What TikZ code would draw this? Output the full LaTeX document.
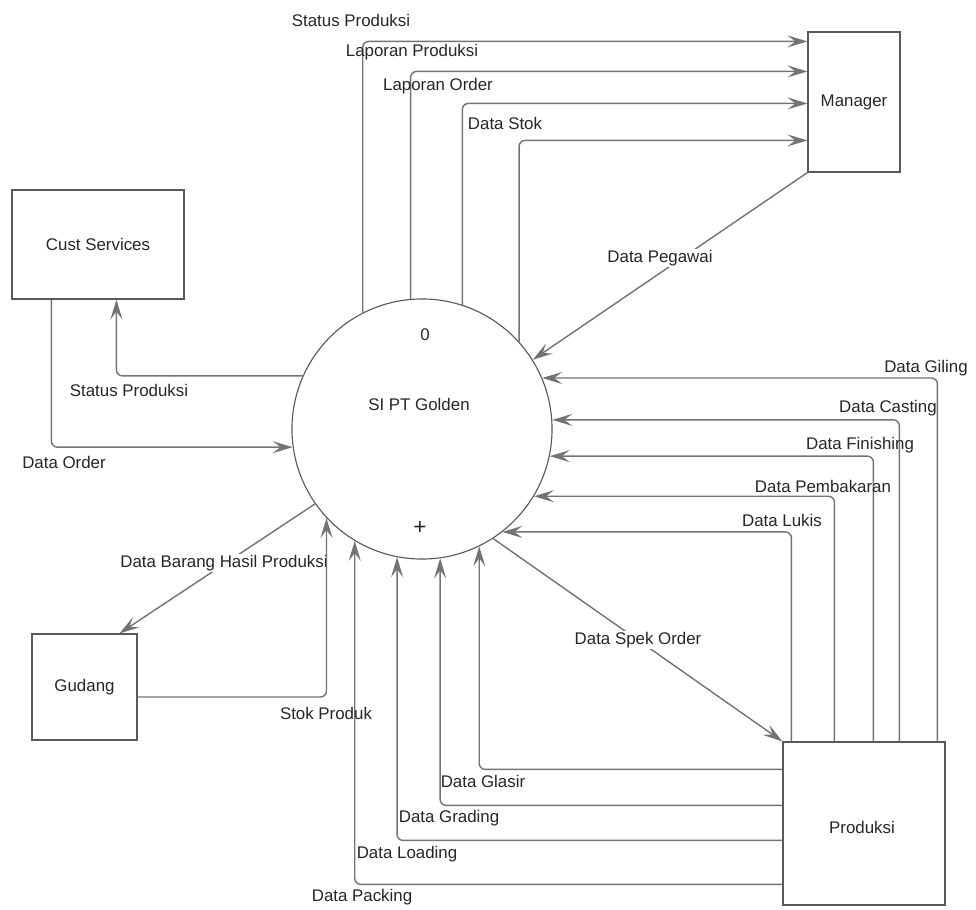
\documentclass[tikz,border=0pt]{standalone}
\usepackage{fontspec}
\setmainfont{Liberation Sans}
\usetikzlibrary{calc, positioning, arrows.meta}

\begin{document}
\begin{tikzpicture}[x=0.025cm, y=-0.025cm, line width=1pt,
    flow/.style={draw=black!55, rounded corners=0.15cm, -{Stealth[length=5mm, width=3mm, inset=2mm]}},
    entity/.style={draw=black!65, line width=0.8pt, inner sep=0pt},
    lbl/.style={font=\fontsize{12}{14}\selectfont, text=black!85, inner sep=1pt}]
    \useasboundingbox (0,0) rectangle (976,910);
    % The process and the external entities
    \node[entity, circle, minimum size=6.5cm] (sys) at (422,429) {};
    \node[lbl] (sysname) at ($(sys.center)+(-3,-25)$) {SI PT Golden};
    \node[lbl] (sysid) at ($(sys.center)+(3,-94)$) {0};
    \node[lbl, font=\fontsize{16}{16}\selectfont] (sysplus) at ($(sys.center)+(-2,99)$) {+};
    \node[entity, minimum width=4.3cm, minimum height=2.725cm] (cs) at (98,244.5) {};
    \node[lbl] at (cs) {Cust Services};
    \node[entity, minimum width=2.3cm, minimum height=3.5cm] (mgr) at (854,102) {};
    \node[lbl] at (mgr) {Manager};
    \node[entity, minimum width=2.625cm, minimum height=2.65cm] (gud) at (84.5,687) {};
    \node[lbl] at (gud) {Gudang};
    \node[entity, minimum width=4.05cm, minimum height=4.075cm] (prod) at (864,823.5) {};
    \node[lbl] at ($(prod.center)+(-2,4)$) {Produksi};

    % Flows to the manager
    \draw[flow] (sys.117) |- ($(mgr.north west)+(0,10)$);
    \node[lbl] at (351,20) {Status Produksi};
    \draw[flow] (sys.95) |- ($(mgr.north west)+(0,40)$);
    \node[lbl] at (412,52) {Laporan Produksi};
    \draw[flow] (sys.72) |- ($(mgr.north west)+(0,72)$);
    \node[lbl] at (438,86) {Laporan Order};
    \draw[flow] (sys.42) |- ($(mgr.north west)+(0,109)$);
    \node[lbl] at (505,123) {Data Stok};
    \draw[flow] (mgr.south west) -- (sys.32);
    \node[lbl, fill=white] at (660,258) {Data Pegawai};

    % Flows from produksi, right side
    \draw[flow] ($(prod.north west)+(155,0)$) |- (sys.23);
    \node[lbl] at (926,368) {Data Giling};
    \draw[flow] ($(prod.north west)+(117,0)$) |- (sys.4);
    \node[lbl] at (888,408) {Data Casting};
    \draw[flow] ($(prod.north west)+(91,0)$) |- (sys.-12);
    \node[lbl] at (860,445) {Data Finishing};
    \draw[flow] ($(prod.north west)+(52,0)$) |- (sys.-31);
    \node[lbl] at (823,486) {Data Pembakaran};
    \draw[flow] ($(prod.north west)+(9,0)$) |- (sys.-52);
    \node[lbl] at (782,520) {Data Lukis};
    \draw[flow] (sys.-57) -- (prod.north west);
    \node[lbl, fill=white] at (638,640) {Data Spek Order};

    % Flows from produksi, bottom
    \draw[flow] ($(prod.north west)+(0,28)$) -| (sys.-64);
    \node[lbl] at (483,781) {Data Glasir};
    \draw[flow] ($(prod.north west)+(0,64)$) -| (sys.-82);
    \node[lbl] at (449,818) {Data Grading};
    \draw[flow] ($(prod.north west)+(0,99)$) -| (sys.-101);
    \node[lbl] at (407,854) {Data Loading};
    \draw[flow] ($(prod.north west)+(0,143)$) -| (sys.-121);
    \node[lbl] at (362,897) {Data Packing};

    % Cust services and gudang
    \draw[flow] (sys.156) -| ($(cs.south west)+(105,0)$);
    \node[lbl] at (129,390) {Status Produksi};
    \draw[flow] ($(cs.south west)+(40,0)$) |- (sys.188);
    \node[lbl] at (64,462) {Data Order};
    \draw[flow] (sys.215) -- ($(gud.north west)+(88,0)$);
    \node[lbl, fill=white] at (224,563) {Data Barang Hasil Produksi};
    \draw[flow] ($(gud.east)+(0,10)$) -| (sys.-137);
    \node[lbl] at (326,713) {Stok Produk};
\end{tikzpicture}
\end{document}
